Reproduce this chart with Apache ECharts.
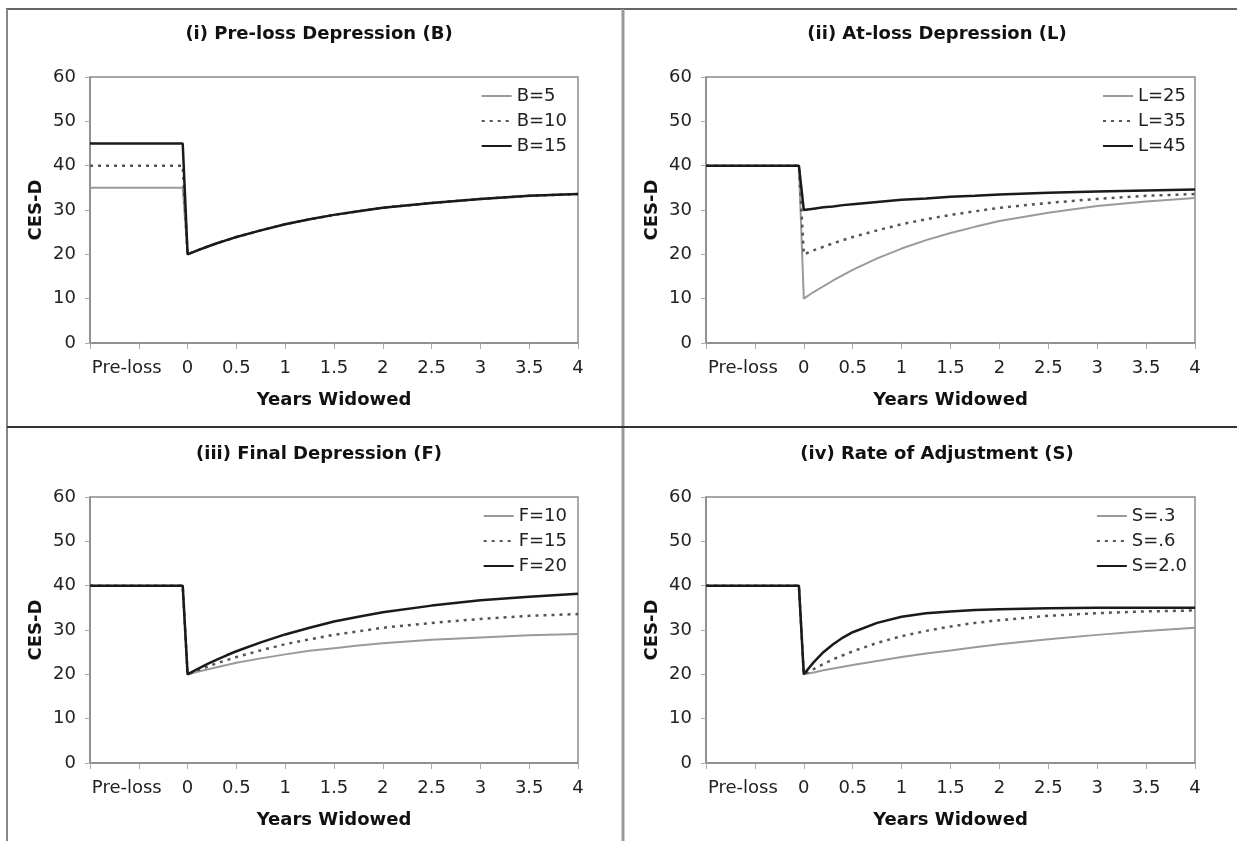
<!DOCTYPE html>
<html>
<head>
    <meta charset="utf-8">
    <script src="https://cdn.jsdelivr.net/npm/echarts@6/dist/echarts.min.js"></script>
    <style>
        html, body { margin: 0; padding: 0; background: #fff; }
        #main { width: 1237px; height: 841px; }
    </style>
</head>
<body>
<div id="main"></div>
<script type="text/javascript">
    // years widowed (-1 .. 0 is the "Pre-loss" stretch)
    var years = [-1, -0.05, 0, 0.1, 0.2, 0.3, 0.4, 0.5, 0.75, 1, 1.25, 1.5, 1.75, 2, 2.5, 3, 3.5, 4];
    var xTicks = [-1, -0.5, 0, 0.5, 1, 1.5, 2, 2.5, 3, 3.5, 4];
    var yTicks = [0, 10, 20, 30, 40, 50, 60];

    var panelTitles = ['(i) Pre-loss Depression (B)', '(ii) At-loss Depression (L)',
        '(iii) Final Depression (F)', '(iv) Rate of Adjustment (S)'];
    var legendNames = [
        ['B=5', 'B=10', 'B=15'],
        ['L=25', 'L=35', 'L=45'],
        ['F=10', 'F=15', 'F=20'],
        ['S=.3', 'S=.6', 'S=2.0']
    ];

    // (i) pre-loss depression
    var b5 = [35, 35, 20, 20.9, 21.7, 22.5, 23.2, 23.9, 25.4, 26.8, 27.9, 28.9, 29.7, 30.5, 31.6, 32.5, 33.2, 33.6];
    var b10 = [40, 40, 20, 20.9, 21.7, 22.5, 23.2, 23.9, 25.4, 26.8, 27.9, 28.9, 29.7, 30.5, 31.6, 32.5, 33.2, 33.6];
    var b15 = [45, 45, 20, 20.9, 21.7, 22.5, 23.2, 23.9, 25.4, 26.8, 27.9, 28.9, 29.7, 30.5, 31.6, 32.5, 33.2, 33.6];
    // (ii) at-loss depression
    var l25 = [40, 40, 10, 11.5, 12.8, 14.1, 15.3, 16.5, 19.1, 21.3, 23.2, 24.8, 26.2, 27.5, 29.4, 30.9, 31.9, 32.7];
    var l35 = [40, 40, 20, 20.9, 21.7, 22.5, 23.2, 23.9, 25.4, 26.8, 27.9, 28.9, 29.7, 30.5, 31.6, 32.5, 33.2, 33.6];
    var l45 = [40, 40, 30, 30.3, 30.6, 30.8, 31.1, 31.3, 31.8, 32.3, 32.6, 33.0, 33.2, 33.5, 33.9, 34.2, 34.4, 34.6];
    // (iii) final depression
    var f10 = [40, 40, 20, 20.6, 21.1, 21.6, 22.1, 22.6, 23.6, 24.5, 25.3, 25.9, 26.5, 27.0, 27.8, 28.3, 28.8, 29.1];
    var f15 = [40, 40, 20, 20.9, 21.7, 22.5, 23.2, 23.9, 25.4, 26.8, 27.9, 28.9, 29.7, 30.5, 31.6, 32.5, 33.2, 33.6];
    var f20 = [40, 40, 20, 21.2, 22.3, 23.3, 24.3, 25.2, 27.2, 29.0, 30.5, 31.9, 33.0, 34.0, 35.5, 36.7, 37.5, 38.2];
    // (iv) rate of adjustment
    var s03 = [40, 40, 20, 20.4, 20.9, 21.3, 21.7, 22.1, 23.0, 23.9, 24.7, 25.4, 26.1, 26.8, 27.9, 28.9, 29.8, 30.5];
    var s06 = [40, 40, 20, 21.2, 22.3, 23.4, 24.3, 25.2, 27.1, 28.6, 29.8, 30.8, 31.6, 32.2, 33.2, 33.8, 34.2, 34.4];
    var s20 = [40, 40, 20, 22.7, 25.0, 26.8, 28.3, 29.5, 31.6, 33.0, 33.8, 34.2, 34.5, 34.7, 34.9, 35.0, 35.0, 35.0];

    var panelData = [[b5, b10, b15], [l25, l35, l45], [f10, f15, f20], [s03, s06, s20]];

    var FONT = 'DejaVu Sans';
    var grids = [
        {left: 90, top: 77, width: 488, height: 266},
        {left: 706, top: 77, width: 489, height: 266},
        {left: 90, top: 497, width: 488, height: 266},
        {left: 706, top: 497, width: 489, height: 266}
    ];
    var titleX = [314, 932, 314, 932];
    var titleY = [20, 20, 440, 440];
    var legendRight = [670, 51, 670, 50];
    var legendTop = [86, 86, 506, 506];

    var lineStyles = [
        {color: '#9a9a9a', width: 2, type: 'solid'},
        {color: '#555', width: 2.5, type: [3, 5]},
        {color: '#1a1a1a', width: 2.5, type: 'solid'}
    ];

    function pairs(vals) {
        var out = [];
        for (var i = 0; i < years.length; i++) out.push([years[i], vals[i]]);
        return out;
    }

    var opt = {
        animation: false,
        backgroundColor: '#fff',
        title: [], grid: [], xAxis: [], yAxis: [], legend: [], series: [],
        graphic: [
            {type: 'line', shape: {x1: 6, y1: 9, x2: 1237, y2: 9}, style: {stroke: '#666', lineWidth: 2}},
            {type: 'line', shape: {x1: 7, y1: 9, x2: 7, y2: 841}, style: {stroke: '#888', lineWidth: 2}},
            {type: 'line', shape: {x1: 623, y1: 9, x2: 623, y2: 841}, style: {stroke: '#999', lineWidth: 3}},
            {type: 'line', shape: {x1: 7, y1: 427, x2: 1237, y2: 427}, style: {stroke: '#333', lineWidth: 2}}
        ]
    };

    for (var p = 0; p < 4; p++) {
        opt.title.push({
            text: panelTitles[p], left: titleX[p], top: titleY[p], textAlign: 'center',
            textStyle: {fontFamily: FONT, fontSize: 18, fontWeight: 'bold', color: '#111'}
        });
        var g = grids[p];
        opt.grid.push({
            left: g.left, top: g.top, width: g.width, height: g.height,
            show: true, borderColor: '#8a8a8a', borderWidth: 1.5, backgroundColor: '#fff'
        });
        opt.xAxis.push({
            type: 'value', gridIndex: p, min: xTicks[0], max: xTicks[xTicks.length - 1], interval: 0.5,
            name: 'Years Widowed', nameLocation: 'middle', nameGap: 48,
            nameTextStyle: {fontFamily: FONT, fontSize: 18, fontWeight: 'bold', color: '#111'},
            axisLine: {show: true, onZero: false, lineStyle: {color: '#8a8a8a', width: 1.5}},
            axisTick: {show: true, length: 6, lineStyle: {color: '#aaa'}},
            splitLine: {show: false},
            axisLabel: {
                margin: 16, fontFamily: FONT, fontSize: 18, color: '#222',
                formatter: function (v) {
                    if (v === -1) return '';
                    if (v === -0.5) return '{p|Pre-loss}';
                    return String(v);
                },
                rich: {p: {fontFamily: FONT, fontSize: 18, color: '#222', padding: [0, 24, 0, 0]}}
            }
        });
        opt.yAxis.push({
            type: 'value', gridIndex: p, min: yTicks[0], max: yTicks[yTicks.length - 1], interval: 10,
            name: 'CES-D', nameLocation: 'middle', nameGap: 45, nameRotate: 90,
            nameTextStyle: {fontFamily: FONT, fontSize: 18, fontWeight: 'bold', color: '#111'},
            axisLine: {show: true, onZero: false, lineStyle: {color: '#8a8a8a', width: 1.5}},
            axisTick: {show: true, length: 5, lineStyle: {color: '#aaa'}},
            splitLine: {show: false},
            axisLabel: {margin: 14, fontFamily: FONT, fontSize: 18, color: '#222'}
        });
        opt.legend.push({
            data: legendNames[p], orient: 'vertical', right: legendRight[p], top: legendTop[p],
            padding: 0, itemGap: 5, itemWidth: 30, itemHeight: 14,
            itemStyle: {opacity: 0},
            textStyle: {fontFamily: FONT, fontSize: 18, color: '#222', lineHeight: 20}
        });
        for (var s = 0; s < 3; s++) {
            opt.series.push({
                name: legendNames[p][s], type: 'line', xAxisIndex: p, yAxisIndex: p,
                symbol: 'none', data: pairs(panelData[p][s]),
                lineStyle: lineStyles[s], itemStyle: {color: lineStyles[s].color}
            });
        }
    }

    var myChart = echarts.init(document.getElementById('main'));
    myChart.setOption(option = opt);
</script>
</body>
</html>
